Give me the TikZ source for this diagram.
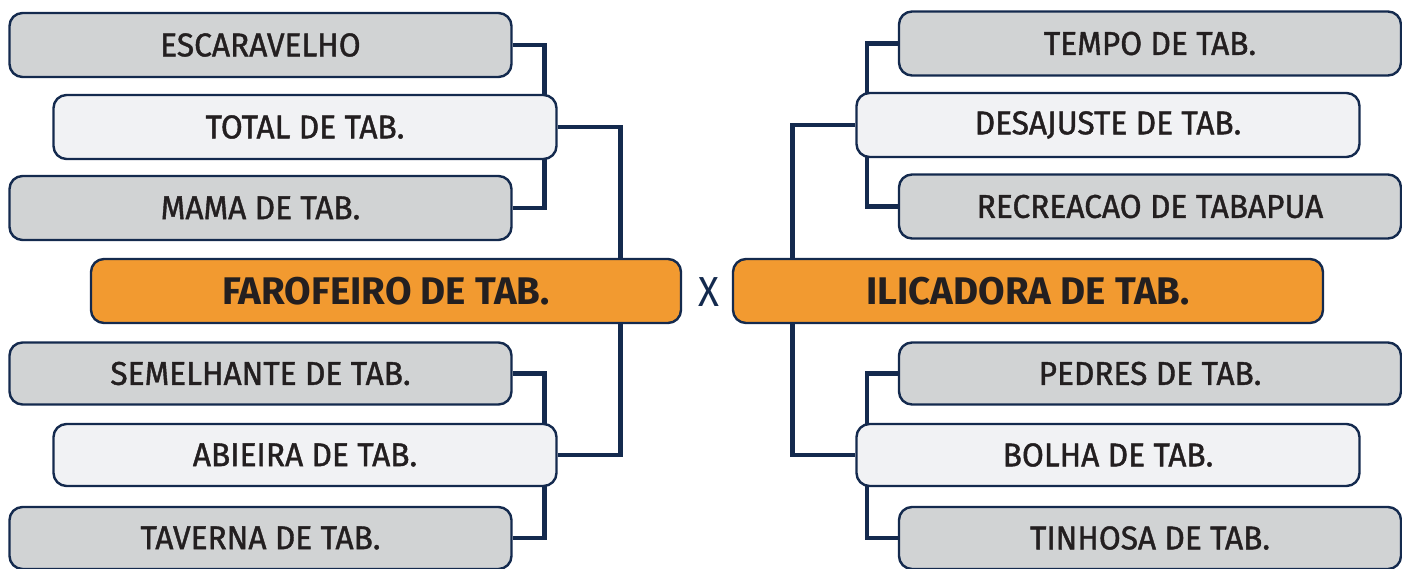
\documentclass[tikz,border=0pt]{standalone}
\usepackage{fontspec}
\setmainfont{Fira Sans}
\newfontfamily\boxfont{Fira Sans}[FakeStretch=0.96, FakeBold=1.2]
\newfontfamily\titlefont{Fira Sans}
\newfontfamily\vsfont{Fira Sans}[FakeStretch=0.92]
\definecolor{navy}{HTML}{142A4E}
\definecolor{grayfill}{HTML}{D1D3D4}
\definecolor{lightfill}{HTML}{F1F2F4}
\definecolor{orangefill}{HTML}{F29A30}
\definecolor{txt}{HTML}{231F20}
\pgfdeclarelayer{background}
\pgfsetlayers{background,main}
\tikzset{
  basebox/.style={draw=navy, line width=2.4pt, rounded corners=13pt, inner sep=0pt,
    text=txt, font=\boxfont\fontsize{33}{40}\selectfont},
  outerbox/.style={basebox, fill=grayfill, minimum width=502pt, minimum height=64pt},
  innerbox/.style={basebox, fill=lightfill, minimum width=503pt, minimum height=64pt},
  lowbox/.style={minimum height=62pt},
  teambox/.style={basebox, fill=orangefill, minimum width=590pt, minimum height=64pt,
    font=\titlefont\bfseries\fontsize{38.5}{46}\selectfont},
  link/.style={draw=navy, line width=4.5pt}
}
\begin{document}
\begin{tikzpicture}[x=1pt,y=-1pt]
\useasboundingbox (0,0) rectangle (1402,568);
% left side
\node[outerbox] (esc) at (260.5,45) {ESCARAVELHO};
\node[innerbox] (tot) at (305,127) {TOTAL DE TAB.};
\node[outerbox] (mama) at (260.5,208) {MAMA DE TAB.};
\node[teambox] (faro) at (386,291) {FAROFEIRO DE TAB.};
\node[outerbox,lowbox] (semel) at (260.5,373.5) {SEMELHANTE DE TAB.};
\node[innerbox,lowbox] (abie) at (305,455) {ABIEIRA DE TAB.};
\node[outerbox,lowbox] (tave) at (260.5,538) {TAVERNA DE TAB.};
% right side
\node[outerbox] (tempo) at (1150,43.5) {TEMPO DE TAB.};
\node[innerbox] (desa) at (1108,125) {DESAJUSTE DE TAB.};
\node[outerbox] (recre) at (1150,206.5) {RECREACAO DE TABAPUA};
\node[teambox] (ilic) at (1028,291) {ILICADORA DE TAB.};
\node[outerbox,lowbox] (pedres) at (1150,373.5) {PEDRES DE TAB.};
\node[innerbox,lowbox] (bolha) at (1108,455) {BOLHA DE TAB.};
\node[outerbox,lowbox] (tinh) at (1150,538) {TINHOSA DE TAB.};
% versus
\node[text=navy, font=\vsfont\fontsize{42}{50}\selectfont, inner sep=0pt] (vs) at (709,292) {X};
\begin{pgfonlayer}{background}
\draw[link] (esc.east) -- ++(32,0) |- (mama.east);
\draw[link] (semel.east) -- ++(32,0) |- (tave.east);
\draw[link] (tot.east) -- ++(63,0) |- (abie.east);
\draw[link] (tempo.west) -- ++(-31,0) |- (recre.west);
\draw[link] (pedres.west) -- ++(-31,0) |- (tinh.west);
\draw[link] (desa.west) -- ++(-63,0) |- (bolha.west);
\end{pgfonlayer}
\end{tikzpicture}
\end{document}
